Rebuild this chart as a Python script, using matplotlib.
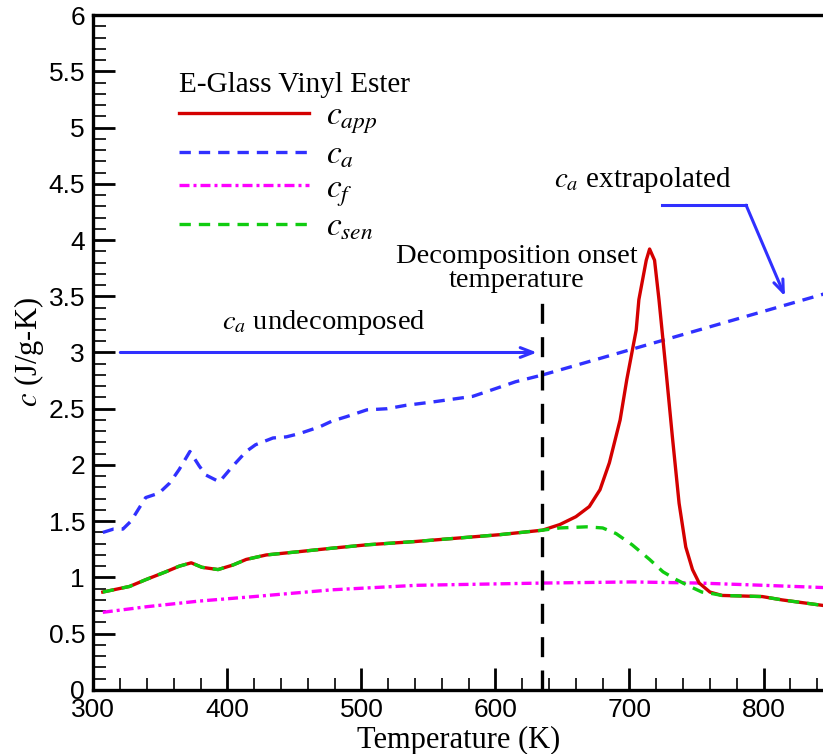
import matplotlib.pyplot as plt
from matplotlib.ticker import MultipleLocator

# data (temperature in K, c in J/g-K)
T_a = [307, 315, 322, 328, 339, 349, 357, 364, 372, 379, 384, 394, 404, 414, 421,
       434, 444, 454, 469, 478, 489, 504, 519, 533, 553, 583, 593, 615, 635]
c_a = [1.40, 1.43, 1.43, 1.50, 1.71, 1.75, 1.84, 1.96, 2.12, 1.99, 1.91, 1.85, 1.99,
       2.12, 2.18, 2.24, 2.25, 2.28, 2.34, 2.39, 2.43, 2.49, 2.50, 2.53, 2.56, 2.61,
       2.65, 2.74, 2.80]
T_a_ext = [635, 845]
c_a_ext = [2.80, 3.52]

T_app = [307, 327, 339, 354, 364, 373, 381, 393, 404, 414, 429, 454, 478, 504, 541,
         603, 635, 648, 660, 670, 678, 685, 693, 698, 705, 707, 712.5, 715, 718.7,
         722, 727, 732, 737, 742, 747, 752, 760, 769, 799, 814, 845]
c_app = [0.87, 0.92, 0.98, 1.05, 1.10, 1.13, 1.09, 1.07, 1.11, 1.16, 1.20, 1.23, 1.26,
         1.29, 1.32, 1.38, 1.42, 1.47, 1.54, 1.63, 1.78, 2.02, 2.40, 2.76, 3.20, 3.47,
         3.82, 3.92, 3.82, 3.47, 2.87, 2.25, 1.66, 1.27, 1.07, 0.95, 0.87, 0.84, 0.83,
         0.80, 0.75]

T_sen = [307, 327, 339, 354, 364, 373, 381, 393, 404, 414, 429, 454, 478, 504, 541,
         603, 635, 648, 668, 680, 690, 702, 715, 725, 735, 745, 754, 760, 769, 799,
         814, 845]
c_sen = [0.87, 0.92, 0.98, 1.05, 1.10, 1.13, 1.09, 1.07, 1.11, 1.16, 1.20, 1.23, 1.26,
         1.29, 1.32, 1.38, 1.42, 1.44, 1.45, 1.44, 1.39, 1.29, 1.16, 1.05, 0.98, 0.92,
         0.87, 0.86, 0.84, 0.83, 0.80, 0.75]

T_f = [307, 340, 379, 420, 478, 541, 635, 702, 752, 800, 845]
c_f = [0.69, 0.74, 0.79, 0.83, 0.89, 0.93, 0.95, 0.96, 0.95, 0.93, 0.91]

T_onset = 635

plt.rcParams['mathtext.fontset'] = 'stix'
serif = 'Liberation Serif'

fig = plt.figure(figsize=(8.23, 7.54), dpi=100)
ax = fig.add_axes([0.1135, 0.085, 0.8875, 0.895])

red = '#d40000'
blue = '#3030ff'
magenta = '#ff00ff'
green = '#10cc10'
dash = (0, (3.4, 2.4))

ax.plot(T_a, c_a, color=blue, lw=2.4, ls=dash, label=r'$c_a$')
ax.plot(T_a_ext, c_a_ext, color=blue, lw=2.4, ls=dash)
ax.plot(T_f, c_f, color=magenta, lw=2.4, ls=(0, (3, 1.2, 0.9, 1.2)), label=r'$c_f$')
ax.plot(T_app, c_app, color=red, lw=2.4, label=r'$c_{app}$')
ax.plot(T_sen, c_sen, color=green, lw=2.4, ls=dash, label=r'$c_{sen}$')

ax.plot([T_onset, T_onset], [0, 3.56], color='black', lw=2.4, ls=(0, (6, 4)))

# annotations
ax.annotate('', xy=(633, 3.0), xytext=(318, 3.0),
            arrowprops=dict(arrowstyle='->,head_length=0.9,head_width=0.35',
                            color=blue, lw=2.2))
ax.text(472, 3.27, r'$c_a$ undecomposed', fontsize=20.5, family=serif,
        ha='center', va='center')
ax.text(616, 3.75, 'Decomposition onset\ntemperature', fontsize=20.5, family=serif,
        ha='center', va='center', linespacing=0.95)
ax.text(710, 4.53, r'$c_a$ extrapolated', fontsize=21, family=serif,
        ha='center', va='center')
ax.plot([724, 787], [4.31, 4.31], color=blue, lw=2.2)
ax.annotate('', xy=(816, 3.50), xytext=(787, 4.31),
            arrowprops=dict(arrowstyle='->,head_length=0.9,head_width=0.35',
                            color=blue, lw=2.2, shrinkA=0, shrinkB=0))

handles, labels = ax.get_legend_handles_labels()
order = [2, 0, 1, 3]
leg = ax.legend([handles[i] for i in order], [labels[i] for i in order],
                title='E-Glass Vinyl Ester', loc='upper left',
                bbox_to_anchor=(0.076, 0.96), frameon=False,
                handlelength=3.9, handletextpad=0.5, labelspacing=0.1,
                prop={'family': serif, 'size': 24},
                title_fontproperties={'family': serif, 'size': 21})
leg._legend_box.align = 'left'

ax.set_xlim(300, 845)
ax.set_ylim(0, 6)
ax.xaxis.set_major_locator(MultipleLocator(100))
ax.xaxis.set_minor_locator(MultipleLocator(20))
ax.yaxis.set_major_locator(MultipleLocator(0.5))
ax.yaxis.set_minor_locator(MultipleLocator(0.1))
ax.yaxis.set_major_formatter(plt.FuncFormatter(lambda v, p: f'{v:g}'))
ax.tick_params(which='both', direction='in', width=2, labelsize=19, pad=6)
ax.tick_params(which='major', length=16)
ax.tick_params(which='minor', length=9, width=1.2)
for lab in ax.get_xticklabels() + ax.get_yticklabels():
    lab.set_family('Liberation Sans')
ax.spines['right'].set_visible(False)
for s in ['left', 'top', 'bottom']:
    ax.spines[s].set_linewidth(2.4)

ax.set_xlabel('Temperature (K)', fontsize=22, family=serif, labelpad=3)
ax.set_ylabel(r'$c$ (J/g-K)', fontsize=22, family=serif, labelpad=2)

fig.savefig('out.png', dpi=100)
